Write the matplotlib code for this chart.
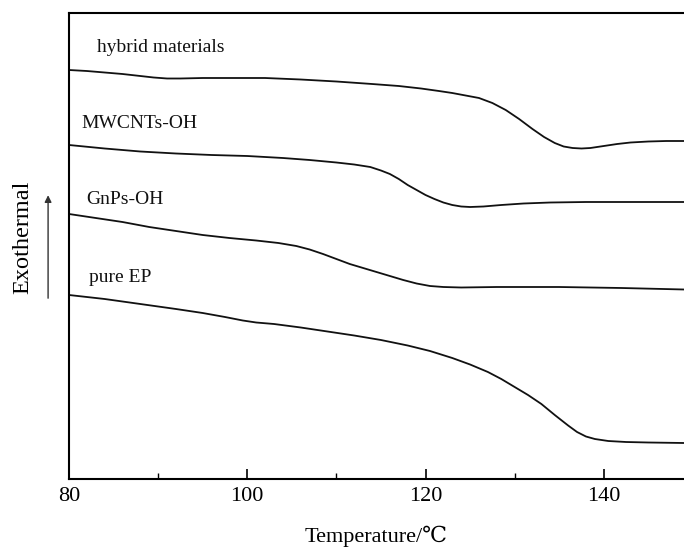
import numpy as np
import matplotlib
matplotlib.use('Agg')
import matplotlib.pyplot as plt
from matplotlib.ticker import MultipleLocator

plt.rcParams['font.family'] = ['Liberation Serif', 'DejaVu Serif', 'DejaVu Sans']

# DSC curves (temperature in C, heat flow in arbitrary units, offset stacked)
t_hybrid = [80, 82, 84, 86, 88, 89.5, 91, 92.5, 95, 98, 102, 106, 110, 114, 117, 119.5,
            121.5, 123, 124.5, 126, 127.5, 129, 130.5, 132, 133.3, 134.5, 135.5, 136.5,
            137.5, 138.5, 140, 141.5, 143, 145, 147, 149]
y_hybrid = [409, 408, 406.5, 405, 403, 401.5, 400.5, 400.5, 401, 401, 401, 399.5, 397.5,
            395, 393, 390.5, 388, 386, 383.5, 381, 376, 369, 360, 350, 342, 336, 332.5,
            331, 330.5, 331, 333, 335, 336.5, 337.5, 338, 338]

t_mwcnt = [80, 84, 88, 92, 96, 100, 104, 107, 110, 112, 113.8, 115, 116, 117, 118, 119,
           120, 121, 122, 123, 124, 125, 126.5, 128.5, 131, 134, 138, 143, 149]
y_mwcnt = [334, 330.5, 327.5, 325.5, 324, 323, 321, 319, 316.5, 314.5, 312, 308.5, 305,
           300, 294, 289, 284, 280, 276.5, 274, 272.5, 272, 272.5, 274, 275.5, 276.5,
           277, 277, 277]

t_gnps = [80, 83, 86, 89, 92, 95, 98, 101, 103.5, 105.5, 107, 108.5, 110, 111.5, 113,
          114.5, 116, 117.5, 119, 120.5, 122, 124, 128, 135, 142, 149]
y_gnps = [265, 261, 257, 252, 248, 244, 241, 238.5, 236, 233, 229.5, 225, 220, 215, 211,
          207, 203, 199, 195.5, 193, 192, 191.5, 192, 192, 191, 189.5]

t_pure = [80, 84, 88, 92, 95, 97.5, 99.5, 101, 103, 106, 109, 112, 115, 118, 120.5, 123,
          125, 127, 128.5, 130, 131.5, 133, 134.5, 136, 137, 138, 139, 140.5, 142.5, 145, 149]
y_pure = [184, 180, 175, 170, 166, 162, 158.5, 156.5, 155, 151.5, 147.5, 143.5, 139, 133.5,
          128, 121, 114.5, 107, 100, 92, 84, 75, 64, 53.5, 47, 42.5, 40, 38, 37, 36.5, 36]

labels = ['hybrid materials', 'MWCNTs-OH', 'GnPs-OH', 'pure EP']
label_x = [83.1, 81.4, 81.9, 82.2]
label_y = [431, 356, 279, 201]

fig = plt.figure(figsize=(6.84, 5.5), dpi=100)
ax = fig.add_axes([69/684, 71/550, 615/684, 466/550])

for t, y in [(t_hybrid, y_hybrid), (t_mwcnt, y_mwcnt), (t_gnps, y_gnps), (t_pure, y_pure)]:
    ax.plot(t, y, color='#111111', lw=1.3, solid_joinstyle='round')

for lab, lx, ly in zip(labels, label_x, label_y):
    ax.text(lx, ly, lab, fontsize=14, va='center', ha='left', color='#111111')

ax.set_xlim(80, 149)
ax.set_ylim(0, 466)
ax.xaxis.set_major_locator(MultipleLocator(20))
ax.xaxis.set_minor_locator(MultipleLocator(10))
ax.tick_params(axis='x', which='major', direction='in', length=7, width=1.2,
               labelsize=16, pad=6)
ax.tick_params(axis='x', which='minor', direction='in', length=4, width=1.0)
ax.set_yticks([])
ax.spines['right'].set_visible(False)
for s in ['left', 'bottom', 'top']:
    ax.spines[s].set_linewidth(1.5)

ax.set_xlabel('Temperature/\u2103', fontsize=16, labelpad=14)
fig.text(23/684, 1 - 237/550, 'Exothermal', rotation=90, fontsize=17.5,
         ha='center', va='center')

ax.annotate('', xy=(-0.034, 0.609), xytext=(-0.034, 0.388), xycoords='axes fraction',
            textcoords='axes fraction', annotation_clip=False,
            arrowprops=dict(arrowstyle='-|>', color='#333333', lw=1.0,
                            mutation_scale=10, shrinkA=0, shrinkB=0))

plt.savefig('out.png', dpi=100)
